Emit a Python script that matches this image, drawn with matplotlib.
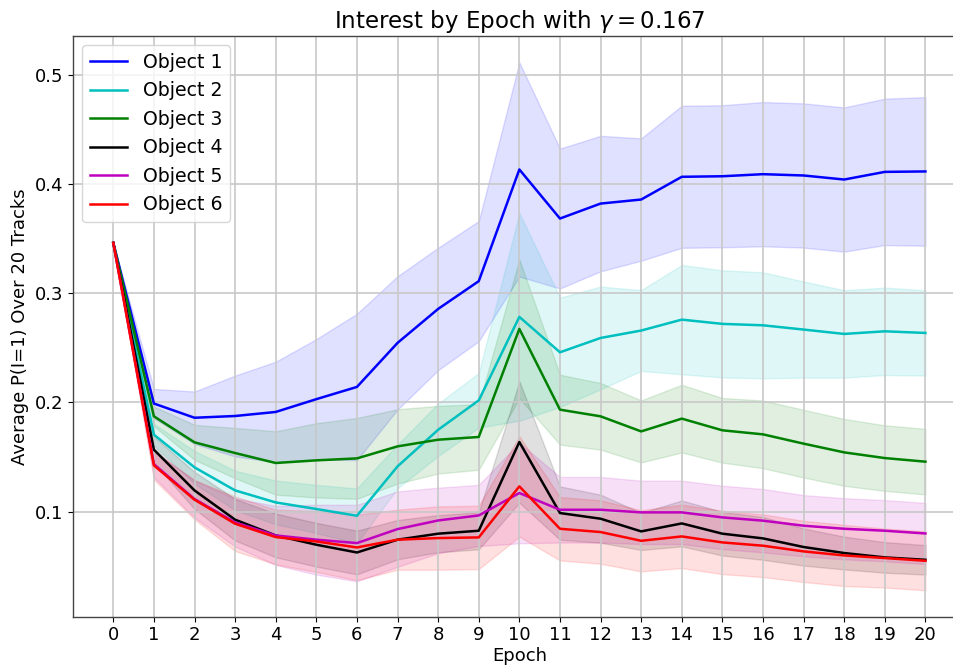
import matplotlib
matplotlib.use("Agg")
import matplotlib.pyplot as plt
import numpy as np

epochs = list(range(21))

obj1_mean = [0.346, 0.199, 0.186, 0.1876, 0.1913, 0.203, 0.2142, 0.2545, 0.2856, 0.311, 0.4132,
             0.3683, 0.382, 0.3857, 0.4065, 0.407, 0.4089, 0.4077, 0.404, 0.411, 0.4114]
obj1_std = [0, 0.0134, 0.024, 0.037, 0.046, 0.055, 0.067, 0.061, 0.056, 0.055, 0.098,
            0.064, 0.062, 0.056, 0.065, 0.065, 0.066, 0.066, 0.066, 0.067, 0.068]

obj2_mean = [0.346, 0.1705, 0.1406, 0.1195, 0.1085, 0.1025, 0.0963, 0.1415, 0.175, 0.2019, 0.2783,
             0.2459, 0.259, 0.2658, 0.2758, 0.2719, 0.2706, 0.2667, 0.2627, 0.2651, 0.2636]
obj2_std = [0, 0.01, 0.015, 0.018, 0.02, 0.022, 0.025, 0.02, 0.024, 0.025, 0.095,
            0.05, 0.047, 0.037, 0.05, 0.049, 0.0485, 0.044, 0.04, 0.04, 0.039]

obj3_mean = [0.346, 0.1873, 0.1635, 0.1537, 0.1446, 0.147, 0.1488, 0.1598, 0.1659, 0.1684, 0.2673,
             0.1934, 0.1873, 0.1735, 0.1852, 0.1745, 0.1708, 0.1623, 0.1543, 0.1491, 0.1458]
obj3_std = [0, 0.009, 0.016, 0.023, 0.029, 0.034, 0.037, 0.034, 0.031, 0.03, 0.0635,
            0.032, 0.0305, 0.0284, 0.031, 0.0296, 0.031, 0.031, 0.0306, 0.03, 0.03]

obj4_mean = [0.346, 0.1568, 0.1195, 0.0927, 0.0783, 0.0698, 0.0627, 0.0744, 0.0799, 0.0826, 0.1638,
             0.0988, 0.0936, 0.082, 0.0893, 0.0799, 0.0756, 0.0677, 0.0622, 0.0582, 0.056]
obj4_std = [0, 0.012, 0.017, 0.019, 0.02, 0.02, 0.02, 0.018, 0.017, 0.017, 0.0556,
            0.0244, 0.022, 0.017, 0.021, 0.02, 0.0196, 0.017, 0.015, 0.014, 0.0135]

obj5_mean = [0.346, 0.1435, 0.1116, 0.0902, 0.0783, 0.0744, 0.0713, 0.0841, 0.092, 0.0966, 0.1171,
             0.1018, 0.1018, 0.0994, 0.0994, 0.0948, 0.0918, 0.0872, 0.0844, 0.0826, 0.0801]
obj5_std = [0, 0.012, 0.017, 0.022, 0.027, 0.032, 0.035, 0.0345, 0.03, 0.028, 0.046,
            0.03, 0.03, 0.029, 0.029, 0.029, 0.029, 0.028, 0.028, 0.028, 0.028]

obj6_mean = [0.346, 0.1424, 0.111, 0.089, 0.0768, 0.0728, 0.0673, 0.0744, 0.0759, 0.0765, 0.1232,
             0.0844, 0.0814, 0.0734, 0.0774, 0.0719, 0.0689, 0.0637, 0.06, 0.0576, 0.0551]
obj6_std = [0, 0.013, 0.018, 0.025, 0.025, 0.028, 0.030, 0.0275, 0.029, 0.029, 0.046,
            0.029, 0.029, 0.028, 0.029, 0.029, 0.0287, 0.028, 0.028, 0.027, 0.027]

labels = ["Object 1", "Object 2", "Object 3", "Object 4", "Object 5", "Object 6"]
colors = ["b", "c", "g", "k", "m", "r"]
means = [obj1_mean, obj2_mean, obj3_mean, obj4_mean, obj5_mean, obj6_mean]
stds = [obj1_std, obj2_std, obj3_std, obj4_std, obj5_std, obj6_std]

fig = plt.figure(figsize=(9.54, 6.69), dpi=100)
ax = fig.add_axes([0.0762, 0.0782, 0.9364, 0.868])

x = np.array(epochs)
for lab, col, m, s in zip(labels, colors, means, stds):
    m = np.array(m)
    s = np.array(s)
    ax.plot(x, m, color=col, label=lab, lw=1.8)
    ax.fill_between(x, m - s, m + s, color=col, alpha=0.12)

ax.set_xlim(-1, 21)
ax.set_xticks(epochs)
ax.tick_params(labelsize=13)
ax.grid(True, color="#c8c8c8", lw=1.2)
for sp in ax.spines.values():
    sp.set_color("#444444")
    sp.set_linewidth(1.0)
ax.spines["right"].set_visible(False)
ax.set_xlabel("Epoch", fontsize=13, labelpad=2)
ax.set_ylabel("Average P(I=1) Over 20 Tracks", fontsize=13)
ax.set_title(r"Interest by Epoch with $\gamma = 0.167$", fontsize=16.5)
ax.legend(loc="upper left", fontsize=13.6)

fig.savefig("out.png", dpi=100)
